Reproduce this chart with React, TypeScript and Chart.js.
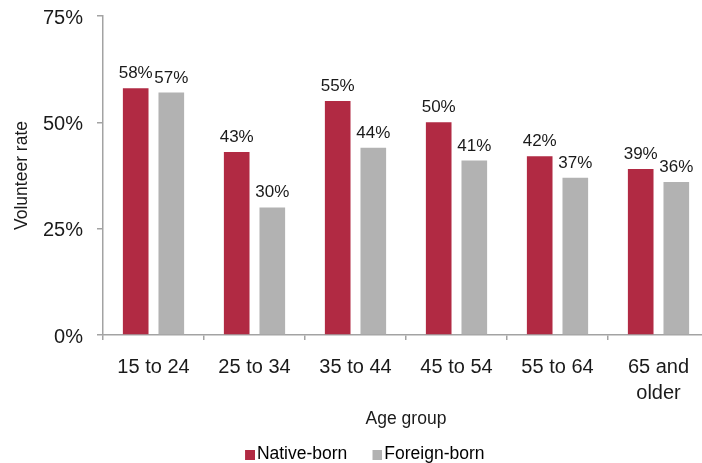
import React, { useEffect, useRef } from "react";
import { Chart, registerables } from "chart.js";

Chart.register(...registerables);

const categories: (string | string[])[] = ["15 to 24", "25 to 34", "35 to 44", "45 to 54", "55 to 64", ["65 and", "older"]];
const nativeBorn = [58, 43, 55, 50, 42, 39];
const foreignBorn = [57, 30, 44, 41, 37, 36];
const yTicks = [0, 25, 50, 75];
const seriesNames = ["Native-born", "Foreign-born"];
const seriesColors = ["#B12A43", "#B2B2B2"];

const FONT = "'Liberation Sans', Arial, Helvetica, sans-serif";
const TEXT = "#1a1a1a";
const AXIS = "#A3A3A3";

function makeLegendBox(color: string): HTMLCanvasElement {
  const c = document.createElement("canvas");
  c.width = 32;
  c.height = 10;
  const g = c.getContext("2d")!;
  g.fillStyle = color;
  g.fillRect(22, 0, 10, 10);
  return c;
}

const dataLabels = {
  id: "dataLabels",
  afterDatasetsDraw(chart: any) {
    const ctx = chart.ctx;
    ctx.save();
    ctx.font = `17px ${FONT}`;
    ctx.fillStyle = TEXT;
    ctx.textAlign = "center";
    ctx.textBaseline = "alphabetic";
    chart.data.datasets.forEach((ds: any, i: number) => {
      chart.getDatasetMeta(i).data.forEach((bar: any, j: number) => {
        ctx.fillText(`${ds.data[j]}%`, bar.x, bar.y - 10);
      });
    });
    ctx.restore();
  },
};

export default function App() {
  const ref = useRef<HTMLCanvasElement | null>(null);

  useEffect(() => {
    if (!ref.current) return;
    const boxes = seriesColors.map(makeLegendBox);
    const chart = new Chart(ref.current, {
      type: "bar",
      data: {
        labels: categories as any,
        datasets: [
          {
            label: seriesNames[0],
            data: nativeBorn,
            backgroundColor: seriesColors[0],
            categoryPercentage: 0.705,
            barPercentage: 0.72,
          },
          {
            label: seriesNames[1],
            data: foreignBorn,
            backgroundColor: seriesColors[1],
            categoryPercentage: 0.705,
            barPercentage: 0.72,
          },
        ],
      },
      options: {
        animation: false,
        responsive: false,
        maintainAspectRatio: false,
        devicePixelRatio: 1,
        layout: { padding: { left: 5.4, right: 0, top: 16, bottom: 0 } },
        plugins: {
          tooltip: { enabled: false },
          legend: {
            position: "bottom",
            maxHeight: 27.25,
            labels: {
              usePointStyle: true,
              pointStyleWidth: 18.25,
              padding: 10,
              color: TEXT,
              font: { family: FONT, size: 17.5 },
              generateLabels: () =>
                seriesNames.map((name, i) => ({
                  text: name,
                  pointStyle: boxes[i] as any,
                  fillStyle: seriesColors[i],
                  strokeStyle: seriesColors[i],
                  lineWidth: 0,
                  hidden: false,
                  datasetIndex: i,
                })),
            },
          } as any,
        },
        scales: {
          x: {
            offset: true,
            grid: {
              display: true,
              drawOnChartArea: false,
              drawTicks: true,
              tickLength: 5,
              color: AXIS,
              lineWidth: 1.5,
              offset: true,
            },
            border: { display: true, color: AXIS, width: 1.5 },
            ticks: {
              color: TEXT,
              font: { family: FONT, size: 20, lineHeight: 1.3 },
              padding: 14,
              maxRotation: 0,
              minRotation: 0,
              autoSkip: false,
            },
            title: {
              display: true,
              text: "Age group",
              color: TEXT,
              font: { family: FONT, size: 17.5 },
              padding: { top: 0, bottom: 6.5 },
            },
            afterFit: (s: any) => {
              s.height = 100.75;
            },
          },
          y: {
            min: 0,
            max: 75,
            afterBuildTicks: (s: any) => {
              s.ticks = yTicks.map((v) => ({ value: v }));
            },
            grid: {
              display: true,
              drawOnChartArea: false,
              drawTicks: true,
              tickLength: 6,
              color: AXIS,
              lineWidth: 1.5,
            },
            border: { display: true, color: AXIS, width: 1.5 },
            ticks: {
              color: TEXT,
              font: { family: FONT, size: 20 },
              padding: 14,
              labelOffset: 2,
              callback: (v: any) => `${v}%`,
            },
            title: {
              display: true,
              text: "Volunteer rate",
              color: TEXT,
              font: { family: FONT, size: 17.5 },
              padding: { top: 6, bottom: 0 },
            },
            afterFit: (s: any) => {
              s.width = 97.6;
              s.paddingTop = 0;
              s.paddingBottom = 0;
            },
          },
        },
      },
      plugins: [dataLabels],
    });
    return () => chart.destroy();
  }, []);

  return (
    <div
      style={{
        position: "absolute",
        left: 0,
        top: 0,
        width: 702,
        height: 463,
        overflow: "hidden",
        background: "#fff",
      }}
    >
      <canvas ref={ref} width={709} height={463} style={{ width: 709, height: 463, display: "block" }} />
    </div>
  );
}
